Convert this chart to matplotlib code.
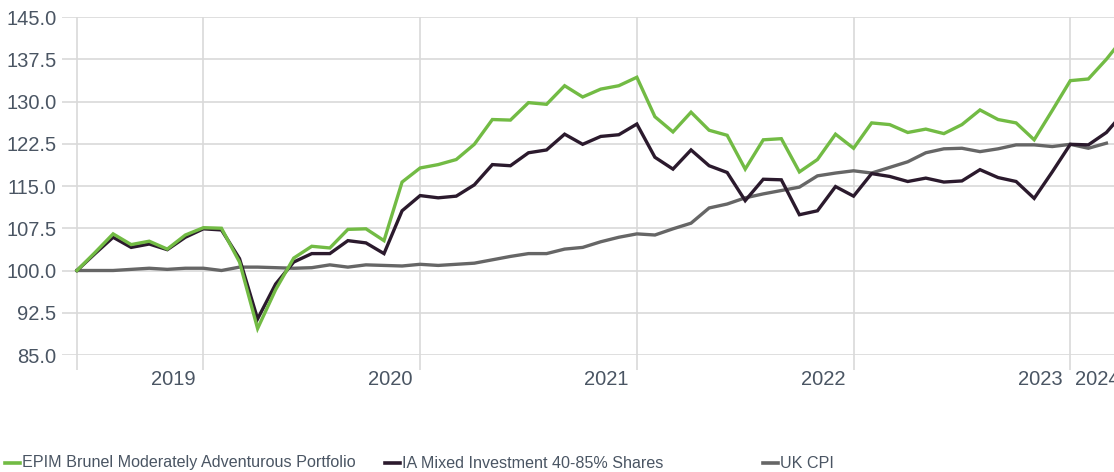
import matplotlib
matplotlib.use("Agg")
import matplotlib.pyplot as plt
from matplotlib.lines import Line2D
import matplotlib.transforms as mtransforms

plt.rcParams['font.family'] = ['Liberation Sans', 'DejaVu Sans']

# Monthly index values (month 0 = start, mid-2018)
epim = [100.0, 103.2, 106.5, 104.6, 105.2, 103.8, 106.3, 107.6, 107.5, 101.5,
        89.7, 96.6, 102.2, 104.3, 104.0, 107.3, 107.4, 105.3, 115.7, 118.2,
        118.8, 119.7, 122.4, 126.8, 126.7, 129.8, 129.5, 132.8, 130.8, 132.2,
        132.8, 134.3, 127.3, 124.6, 128.1, 124.9, 124.0, 118.0, 123.2, 123.4,
        117.5, 119.7, 124.2, 121.7, 126.2, 125.9, 124.5, 125.1, 124.3, 125.9,
        128.5, 126.8, 126.2, 123.2, 128.4, 133.7, 134.0, 137.5, 141.5]
ia_mixed = [100.0, 103.0, 105.9, 104.1, 104.7, 103.7, 105.9, 107.4, 107.2, 102.1,
            91.4, 97.6, 101.5, 103.0, 103.0, 105.3, 104.9, 103.0, 110.6, 113.3,
            112.9, 113.2, 115.2, 118.8, 118.6, 120.9, 121.4, 124.2, 122.4, 123.8,
            124.1, 126.0, 120.1, 118.0, 121.4, 118.6, 117.4, 112.4, 116.2, 116.1,
            109.9, 110.6, 114.9, 113.2, 117.2, 116.7, 115.8, 116.4, 115.7, 115.9,
            117.9, 116.5, 115.8, 112.8, 117.5, 122.4, 122.3, 124.5, 128.2]
uk_cpi = [100.0, 100.0, 100.0, 100.2, 100.4, 100.2, 100.4, 100.4, 100.0, 100.6,
          100.6, 100.5, 100.4, 100.5, 101.0, 100.6, 101.0, 100.9, 100.8, 101.1,
          100.9, 101.1, 101.3, 101.9, 102.5, 103.0, 103.0, 103.8, 104.1, 105.1,
          105.9, 106.5, 106.3, 107.4, 108.4, 111.1, 111.8, 112.9, 113.6, 114.2,
          114.8, 116.8, 117.3, 117.7, 117.3, 118.3, 119.3, 120.9, 121.6, 121.7,
          121.1, 121.6, 122.3, 122.3, 122.0, 122.4, 121.7, 122.6]

series_names = ["EPIM Brunel Moderately Adventurous Portfolio",
                "IA Mixed Investment 40-85% Shares",
                "UK CPI"]
series_colors = ["#72bb44", "#2b1a2d", "#666666"]

year_tick_pos = [0, 7, 19, 31, 43, 55]
year_labels = ["2019", "2020", "2021", "2022", "2023", "2024"]
y_ticks = [85.0, 92.5, 100.0, 107.5, 115.0, 122.5, 130.0, 137.5, 145.0]

W, H = 1114, 472
fig = plt.figure(figsize=(W / 100, H / 100), dpi=100)
ax = fig.add_axes([62 / W, (H - 355) / H, (W - 62) / W, (355 - 17) / H])

grid_c = "#d9d9d9"
text_c = "#4a5563"

ax.plot(range(len(uk_cpi)), uk_cpi, color=series_colors[2], lw=2.4, zorder=3,
        solid_joinstyle='miter')
ax.plot(range(len(ia_mixed)), ia_mixed, color=series_colors[1], lw=2.4, zorder=4,
        solid_joinstyle='miter')
ax.plot(range(len(epim)), epim, color=series_colors[0], lw=2.4, zorder=5,
        solid_joinstyle='miter')

ax.set_ylim(85, 145)
ax.set_xlim(-0.83, 57.42)
ax.set_yticks(y_ticks)
ax.set_yticklabels([f"{v:.1f}" for v in y_ticks])
ax.tick_params(axis='y', length=0, pad=4, labelsize=14.5, labelcolor=text_c)
ax.set_xticks(year_tick_pos)
ax.set_xticklabels([])
ax.tick_params(axis='x', length=11, width=1.2, color=grid_c, direction='out')
ax.grid(True, color=grid_c, lw=1.2, zorder=0)
ax.set_axisbelow(True)
for s in ax.spines.values():
    s.set_visible(False)

# extend horizontal gridlines slightly left of first data point handled by xlim
# year labels: right-aligned left of tick, last one left-aligned after previous tick
for i, lab in enumerate(year_labels):
    if i < len(year_labels) - 1:
        xpos = year_tick_pos[i + 1]
        off = mtransforms.offset_copy(ax.get_xaxis_transform(), fig=fig, x=-8, y=0, units='dots')
        ax.text(xpos, 0, lab, transform=off, ha='right', va='top', fontsize=14.5,
                color=text_c)
    else:
        xpos = year_tick_pos[-1]
        off = mtransforms.offset_copy(ax.get_xaxis_transform(), fig=fig, x=5, y=0, units='dots')
        ax.text(xpos, 0, lab, transform=off, ha='left', va='top', fontsize=14.5,
                color=text_c)
for t in ax.texts:
    t.set_y(-0.045)

# legend
leg_x = [5, 385, 763]
ly = (H - 463) / H
for x0, name, col in zip(leg_x, series_names, series_colors):
    fig.add_artist(Line2D([x0 / W, (x0 + 15) / W], [ly, ly], color=col, lw=2.6,
                          transform=fig.transFigure))
    fig.text((x0 + 17) / W, ly, name, ha='left', va='center', fontsize=11.6,
             color=text_c)

fig.savefig("out.png", dpi=100)
